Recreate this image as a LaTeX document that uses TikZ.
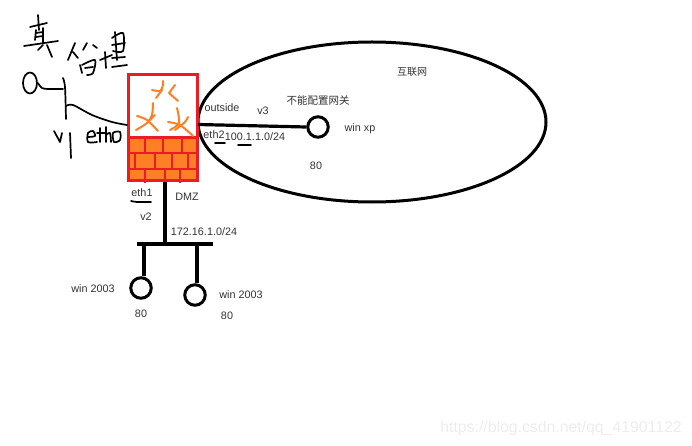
\documentclass[tikz,border=0pt]{standalone}
\usepackage{fontspec}
\setmainfont{Liberation Sans}
\newfontfamily\cjkfont{Noto Sans CJK SC}
\usetikzlibrary{shapes.geometric}
\definecolor{fwred}{HTML}{ED1C24}
\definecolor{fworange}{HTML}{FF7F27}
\definecolor{labelgray}{HTML}{333333}
\tikzset{
  lbl/.style={font=\fontsize{10.8}{12}\selectfont, text=labelgray, inner sep=0pt},
  host/.style={circle, draw=black, line width=3pt, inner sep=0pt, minimum size=20.5pt},
  net/.style={line width=3.2pt},
  hand/.style={line width=1.7pt, line cap=round, line join=round},
  flame/.style={draw=fworange, line width=2pt, line cap=round, line join=round},
  brick/.style={draw=fwred, line width=2pt}
}
\begin{document}
\begin{tikzpicture}[x=1pt, y=-1pt]
\useasboundingbox (0,0) rectangle (692,446);
% internet
\node[ellipse, draw=black, line width=3pt, inner sep=0pt, minimum width=348pt, minimum height=160pt] (inet) at (372,122) {};
\node[lbl, font=\cjkfont\fontsize{10}{12}\selectfont] (inetlabel) at (412,72) {互联网};
% firewall
\node[draw=fwred, line width=3pt, inner sep=0pt, minimum width=69pt, minimum height=106pt] (fw) at (163,127.5) {};
\fill[fworange] (128,138) rectangle (198,181);
\draw[fwred, line width=3pt] (127,138) -- (199,138);
\draw[draw=fwred, line width=3pt] (128.5,74.5) rectangle (197.5,180.5);
\draw[brick] (128,153) -- (198,153);
\draw[brick] (128,169) -- (198,169);
\foreach \bx in {145,163,182} \draw[brick] (\bx,138) -- (\bx,153);
\foreach \bx in {135,155,172,188} \draw[brick] (\bx,153) -- (\bx,169);
\foreach \bx in {145,165,180} \draw[brick] (\bx,169) -- (\bx,183);
% flames
\draw[flame] plot[smooth] coordinates {(152,90) (160,91) (163,85) (163,81)};
\draw[flame] (162,90) -- (156,98);
\draw[flame] (175,85) -- (169,93) -- (178,101);
\draw[flame] plot[smooth] coordinates {(153,103) (152,115) (147,123) (136,130)};
\draw[flame] plot[smooth] coordinates {(137,116) (147,120) (158,131)};
\draw[flame] (155,115) -- (148,122);
\draw[flame] plot[smooth] coordinates {(177,108) (179,123) (170,130)};
\draw[flame] plot[smooth] coordinates {(168,122) (180,125) (193,136)};
\draw[flame] plot[smooth] coordinates {(188,117) (185,122) (175,130)};
% outside
\node[host] (xp) at (318,127) {};
\coordinate (fwout) at (198,124.5);
\draw[net] (fwout) -- (xp.west);
\node[lbl] (outside) at (222,108) {outside};
\node[lbl] (v3) at (263,111) {v3};
\node[lbl] (eth2) at (214,135) {eth2};
\node[lbl] (net3) at (255,137) {100.1.1.0/24};
\node[lbl, font=\cjkfont\fontsize{10.5}{12}\selectfont] (nogw) at (318,100) {不能配置网关};
\node[lbl] (xpname) at (360,129) {win xp};
\node[lbl] (xpport) at (316,166) {80};
\draw[hand] (215,143) -- (225,143);
\draw[hand] (238,145) -- (251,145);
% dmz
\coordinate (trunk) at (165,244);
\coordinate (busl) at (137,244);
\coordinate (busr) at (213,244);
\coordinate (drop1) at (144,244);
\coordinate (drop2) at (197,244);
\node[host] (pc1) at (141,288) {};
\node[host] (pc2) at (195,295) {};
\draw[net] (fw.south -| trunk) -- (trunk);
\draw[net] (busl) -- (busr);
\draw[net] (drop1) -- (drop1 |- pc1.north);
\draw[net] (drop2) -- (drop2 |- pc2.north);
\node[lbl] (eth1) at (142,193) {eth1};
\node[lbl] (dmz) at (187,197) {DMZ};
\node[lbl] (v2) at (146,217) {v2};
\node[lbl] (net2) at (204,232) {172.16.1.0/24};
\node[lbl] (pc1name) at (93,289) {win 2003};
\node[lbl] (pc2name) at (241,295) {win 2003};
\node[lbl] (pc1port) at (141,314) {80};
\node[lbl] (pc2port) at (227,316) {80};
\draw[hand] plot[smooth] coordinates {(131,201) (137,202) (151,202)};
% real machine
\node[ellipse, draw=black, line width=1.7pt, inner sep=0pt, minimum width=14pt, minimum height=21pt] (admin) at (30,83) {};
\coordinate (swtop) at (63,78);
\coordinate (swbot) at (66,119);
\coordinate (eth0p) at (127,125);
\draw[hand] plot[smooth] coordinates {(admin.east) (42,88) (48,89) (63,89)};
\draw[hand] plot[smooth] coordinates {(swtop) (65,87) (swbot)};
\draw[hand] plot[smooth] coordinates {(66,106) (73,105) (92,115) (112,122) (eth0p)};
% handwriting: v1 eth0
\draw[hand] (54,131) -- (60,142) -- (62,133);
\draw[hand] (70,133) -- (71,158);
\draw[hand] plot[smooth] coordinates {(88,137) (95,136) (93,131) (88,133) (88,142) (97,142)};
\draw[hand] (100,128) -- (100,142) (97,133) -- (105,133);
\draw[hand] (106,127) -- (106,142);
\draw[hand] plot[smooth] coordinates {(106,135) (110,133) (111,142)};
\draw[hand] plot[smooth cycle] coordinates {(113,133) (120,132) (120,140) (114,142)};
% handwriting: top left
\draw[hand] (38,15) -- (39,30) (30,27) -- (47,23);
\draw[hand] (36,30) -- (35,40) (43,28) -- (43,43);
\draw[hand] (36,33) -- (43,32) (36,37) -- (43,36);
\draw[hand] (24,46) -- (58,41);
\draw[hand] (38,50) -- (43,45) (47,45) -- (52,57);
\draw[hand] (75,43) -- (68,60) (73,52) -- (78,58);
\draw[hand] (87,43) -- (83,50) (93,45) -- (97,48);
\draw[hand] (80,65) -- (82,73);
\draw[hand] plot[smooth] coordinates {(82,65) (95,60) (93,73) (87,75)};
\draw[hand] (85,68) -- (93,67);
\draw[hand] (100,60) -- (112,55) (105,52) -- (106,68);
\draw[hand] plot[smooth] coordinates {(112,38) (123,33) (123,51) (113,51)};
\draw[hand] (115,32) -- (117,60);
\draw[hand] (112,45) -- (125,43) (112,58) -- (125,57) (112,67) -- (127,65);
% watermark
\node[font=\fontsize{15.8}{17}\selectfont, text=black!7, inner sep=0pt] (mark) at (561,428) {https://blog.csdn.net/qq\_41901122};
\end{tikzpicture}
\end{document}
